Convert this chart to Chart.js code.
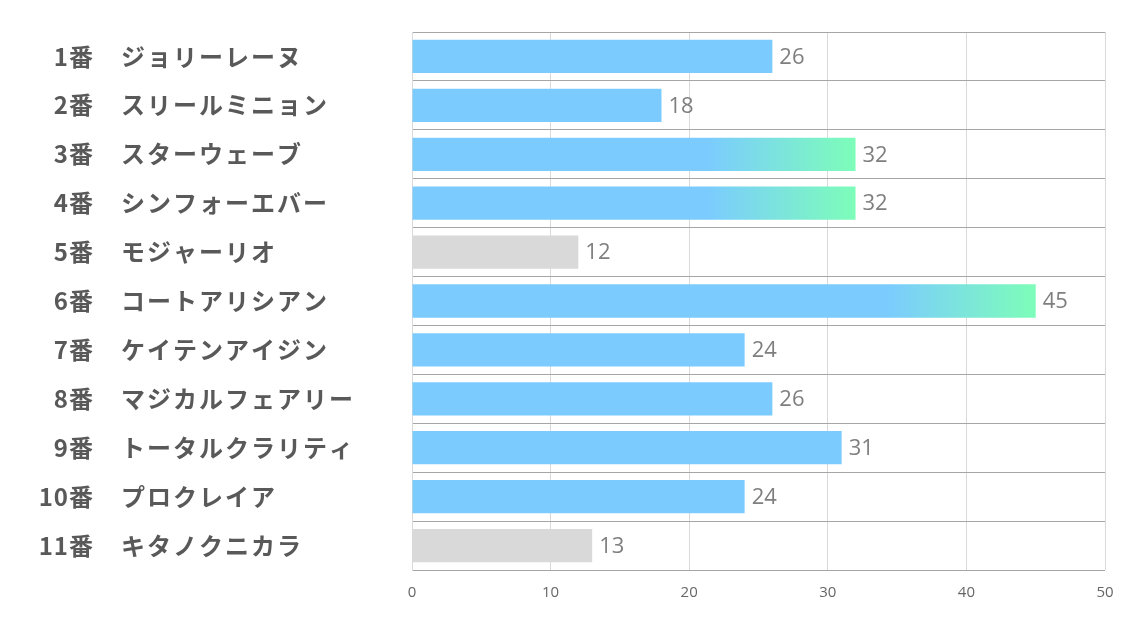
<!DOCTYPE html>
<html>
<head>
<meta charset="utf-8">
<script src="https://cdn.jsdelivr.net/npm/chart.js@4"></script>
<style>
  html, body { margin: 0; padding: 0; background: #fff; }
  #wrap { width: 1134px; height: 623px; }
</style>
</head>
<body>
<div id="wrap"><canvas id="barChart" width="1134" height="623"></canvas></div>
<script>
// horse numbers and names
const numbers = ['1番', '2番', '3番', '4番', '5番', '6番', '7番', '8番', '9番', '10番', '11番']
const names = ['ジョリーレーヌ', 'スリールミニョン', 'スターウェーブ', 'シンフォーエバー', 'モジャーリオ',
  'コートアリシアン', 'ケイテンアイジン', 'マジカルフェアリー', 'トータルクラリティ', 'プロクレイア', 'キタノクニカラ']
const scores = [26, 18, 32, 32, 12, 45, 24, 26, 31, 24, 13]
// 'top' = gradient bar, 'low' = grey bar, 'mid' = plain blue
const ranks = ['mid', 'mid', 'top', 'top', 'low', 'top', 'mid', 'mid', 'mid', 'mid', 'low']
const xTicks = [0, 10, 20, 30, 40, 50]

const BLUE = '#7bcbff'
const GREEN = '#7dfdb9'
const GREY = '#d9d9d9'

const barColor = (context) => {
  const rank = ranks[context.dataIndex]
  if (rank === 'low') return GREY
  if (rank === 'mid') return BLUE
  const chart = context.chart
  if (!chart.chartArea) return BLUE
  const xs = chart.scales.x
  const end = xs.getPixelForValue(scores[context.dataIndex])
  const g = chart.ctx.createLinearGradient(end - 150, 0, end, 0)
  g.addColorStop(0, BLUE)
  g.addColorStop(1, GREEN)
  return g
}

// left labels drawn in two columns
const sideLabels = {
  id: 'sideLabels',
  afterDraw(chart) {
    const ctx = chart.ctx
    const ys = chart.scales.y
    ctx.save()
    ctx.fillStyle = '#595959'
    ctx.font = 'bold 24px "Noto Sans CJK JP", "Noto Sans", sans-serif'
    ctx.textBaseline = 'middle'
    numbers.forEach((n, i) => {
      const y = ys.getPixelForValue(i)
      ctx.letterSpacing = '1px'
      ctx.textAlign = 'right'
      ctx.fillText(n, 94, y)
      ctx.letterSpacing = '2px'
      ctx.textAlign = 'left'
      ctx.fillText(names[i], 121, y)
    })
    ctx.restore()
  }
}

// value labels at the end of the bars
const valueLabels = {
  id: 'valueLabels',
  afterDatasetsDraw(chart) {
    const ctx = chart.ctx
    const meta = chart.getDatasetMeta(0)
    ctx.save()
    ctx.fillStyle = '#7f7f7f'
    ctx.font = '22px "Open Sans", "Noto Sans", sans-serif'
    ctx.textAlign = 'left'
    ctx.textBaseline = 'middle'
    meta.data.forEach((bar, i) => {
      ctx.fillText(String(scores[i]), bar.x + 7, bar.y + 1)
    })
    ctx.restore()
  }
}

const ctxB = document.getElementById('barChart').getContext('2d')
const myBarChart = new Chart(ctxB, {
  type: 'bar',
  data: {
    labels: numbers.map((n, i) => n + '　' + names[i]),
    datasets: [{
      data: scores,
      backgroundColor: barColor,
      borderWidth: 0,
      barPercentage: 0.68,
      categoryPercentage: 1
    }]
  },
  options: {
    indexAxis: 'y',
    responsive: false,
    animation: false,
    layout: { padding: { top: 32, right: 29, left: 0, bottom: 0 } },
    plugins: {
      legend: { display: false },
      tooltip: { enabled: false }
    },
    scales: {
      x: {
        min: 0,
        max: 50,
        afterBuildTicks: (scale) => { scale.ticks = xTicks.map(v => ({ value: v })) },
        afterFit: (scale) => { scale.height = 53 },
        grid: { color: '#d9d9d9', drawTicks: false },
        border: { display: false },
        ticks: {
          color: '#666',
          padding: 14,
          font: { family: '"Open Sans", "Noto Sans", sans-serif', size: 15 }
        }
      },
      y: {
        afterFit: (scale) => { scale.width = 412 },
        grid: { color: '#a6a6a6', drawTicks: false, offset: true },
        border: { color: '#d9d9d9' },
        ticks: { display: false }
      }
    }
  },
  plugins: [sideLabels, valueLabels]
})
</script>
</body>
</html>
